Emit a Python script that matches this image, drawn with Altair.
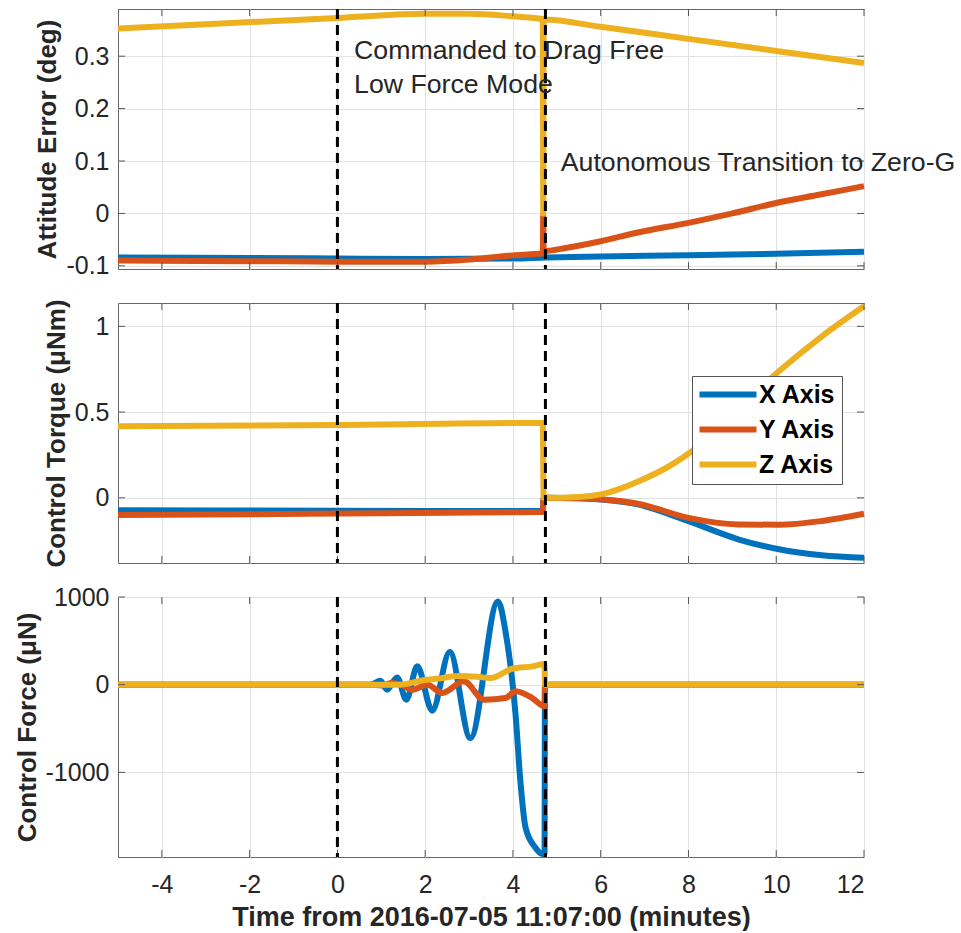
import altair as alt
import pandas as pd

FONT = "Liberation Sans"
SERIES = ["X Axis", "Y Axis", "Z Axis"]
COLORS = ["#0072BD", "#D95319", "#EDB120"]
XTICKS = [-4, -2, 0, 2, 4, 6, 8, 10, 12]
EVENTS = [0, 4.74]
XTITLE = "Time from 2016-07-05 11:07:00 (minutes)"

# ---- Panel 1: Attitude Error (deg)
ATT_YTICKS = [-0.1, 0, 0.1, 0.2, 0.3]
ATT_X_T = [-5, -2, 0, 2, 4, 4.75, 6, 8, 10, 12]
ATT_X_V = [-0.084, -0.085, -0.086, -0.087, -0.086, -0.084, -0.082, -0.080, -0.077, -0.073]
ATT_Y_T = [-5, -2, 0, 2, 3, 3.5, 4, 4.68, 4.69, 4.70, 5.2, 6, 6.87, 8, 9, 10, 11, 12]
ATT_Y_V = [-0.090, -0.091, -0.092, -0.092, -0.088, -0.084, -0.080, -0.076, -0.003, -0.072,
           -0.066, -0.053, -0.036, -0.018, 0.000, 0.020, 0.036, 0.052]
ATT_Z_T = [-5, 0, 2, 3, 4, 4.68, 4.69, 4.70, 6, 8, 10, 12]
ATT_Z_V = [0.353, 0.373, 0.381, 0.381, 0.376, 0.371, 0.0, 0.370, 0.356, 0.333, 0.310, 0.287]

# ---- Panel 2: Control Torque (uNm)
TRQ_YTICKS = [0, 0.5, 1]
TRQ_X_T = [-5, 0, 4.68, 4.70, 5.5, 6, 6.87, 8, 9.15, 10.06, 11.04, 12]
TRQ_X_V = [-0.072, -0.075, -0.077, 0.0, -0.003, -0.010, -0.040, -0.136, -0.243, -0.300, -0.335, -0.350]
TRQ_Y_T = [-5, 0, 4.68, 4.70, 5.5, 6, 6.87, 8, 9.15, 10.06, 11.04, 12]
TRQ_Y_V = [-0.100, -0.092, -0.082, 0.0, -0.002, -0.008, -0.035, -0.117, -0.155, -0.157, -0.135, -0.093]
TRQ_Z_T = [-5, 0, 4.68, 4.70, 5.5, 6, 6.87, 7.63, 8.08, 9.0, 10.06, 11.04, 12]
TRQ_Z_V = [0.418, 0.425, 0.437, 0.0, 0.005, 0.020, 0.097, 0.195, 0.272, 0.490, 0.738, 0.942, 1.117]

# ---- Panel 3: Control Force (uN)
FRC_YTICKS = [-1000, 0, 1000]
FRC_X_T = [-5, 0, 0.75, 0.98, 1.13, 1.36, 1.57, 1.82, 2.16, 2.56, 3.03, 3.66, 3.83, 4.06, 4.17,
           4.29, 4.50, 4.65, 4.72, 4.73, 12]
FRC_X_V = [0, 0, 0, 45, -57, 83, -171, 209, -296, 372, -609, 950, 608, -342, -1103,
           -1635, -1850, -1925, -1930, 0, 0]
FRC_Y_T = [-5, 0.75, 1.0, 1.25, 1.45, 1.70, 2.05, 2.39, 2.88, 3.34, 3.83, 4.06, 4.44, 4.72, 4.73, 12]
FRC_Y_V = [0, 0, -10, 20, 0, -57, 0, -95, 38, -171, -152, -76, -152, -247, 0, 0]
FRC_Z_T = [-5, 1.4, 1.95, 2.3, 2.77, 3.2, 3.49, 3.98, 4.44, 4.72, 4.73, 12]
FRC_Z_V = [0, 0, 50, 70, 99, 90, 76, 182, 209, 235, 0, 0]

NOTES_T = [0.38, 0.38, 5.09]
NOTES_V = [0.309, 0.245, 0.096]
NOTES_TXT = ["Commanded to Drag Free", "Low Force Mode", "Autonomous Transition to Zero-G"]

W, H = 746, 260
TICKLEN = 7


def series_df(ts, vs):
    rows = []
    for name, tt, vv in zip(SERIES, ts, vs):
        for i, (t, v) in enumerate(zip(tt, vv)):
            rows.append({"t": t, "v": v, "s": name, "o": i})
    return pd.DataFrame(rows)


def panel(df, ydom, yticks, ytitle, bottom=False, legend=False, notes=None):
    xs = alt.Scale(domain=[-5, 12], nice=False, zero=False)
    ys = alt.Scale(domain=ydom, nice=False, zero=False)
    xaxis_kw = dict(values=XTICKS, grid=True, ticks=False, tickSize=0, domain=False,
                    gridColor="#e2e2e2", gridWidth=1, labelFont=FONT, labelFontSize=25,
                    labelColor="#262626", labelExpr="'' + datum.value")
    if bottom:
        xaxis = alt.Axis(labels=True, title=XTITLE, labelPadding=15, titlePadding=7,
                         titleFont=FONT, titleFontSize=27, titleFontWeight="bold",
                         titleColor="#262626", **xaxis_kw)
    else:
        xaxis = alt.Axis(labels=False, title="", **xaxis_kw)
    yaxis = alt.Axis(values=yticks, grid=True, ticks=False, tickSize=0, domain=False,
                     gridColor="#e2e2e2", gridWidth=1, labelFont=FONT, labelFontSize=25,
                     labelColor="#262626", labelPadding=9, labelExpr="'' + datum.value",
                     title=ytitle, titleFont=FONT, titleFontSize=26, titleFontWeight="bold",
                     titleColor="#262626", titlePadding=5)
    X = lambda: alt.X("t:Q", scale=xs, axis=xaxis)
    Y = lambda: alt.Y("v:Q", scale=ys, axis=yaxis)
    if legend:
        leg = alt.Legend(orient="none", legendX=574, legendY=73, title=None,
                         fillColor="white", strokeColor="#555555", padding=6,
                         labelFont=FONT, labelFontWeight="bold", labelFontSize=25,
                         labelColor="black", symbolType="M-2.2,0H9.2", symbolSize=100,
                         symbolStrokeWidth=6, symbolOpacity=1, labelOffset=36,
                         rowPadding=9, cornerRadius=0)
    else:
        leg = None
    lines = alt.Chart(df).mark_line(strokeWidth=6, interpolate="monotone").encode(
        x=X(), y=Y(),
        color=alt.Color("s:N", scale=alt.Scale(domain=SERIES, range=COLORS), legend=leg),
        order="o:Q",
    )
    ev = alt.Chart(pd.DataFrame({"t": EVENTS})).mark_rule(
        strokeDash=[10, 6], strokeWidth=3, color="black").encode(x=X())
    xt = pd.DataFrame({"t": XTICKS})
    yt = pd.DataFrame({"v": yticks})
    tick_style = dict(color="#555555", strokeWidth=1)
    tk_top = alt.Chart(xt).mark_rule(**tick_style).encode(
        x=X(), y=alt.value(0), y2=alt.value(TICKLEN))
    tk_bot = alt.Chart(xt).mark_rule(**tick_style).encode(
        x=X(), y=alt.value(H), y2=alt.value(H - TICKLEN))
    tk_l = alt.Chart(yt).mark_rule(**tick_style).encode(
        y=Y(), x=alt.value(0), x2=alt.value(TICKLEN))
    tk_r = alt.Chart(yt).mark_rule(**tick_style).encode(
        y=Y(), x=alt.value(W), x2=alt.value(W - TICKLEN))
    layers = [lines, tk_top, tk_bot, tk_l, tk_r, ev]
    if notes is not None:
        txt = alt.Chart(notes).mark_text(align="left", baseline="middle", font=FONT,
                                         fontSize=26.7, color="#262626").encode(
            x=X(), y=Y(), text="txt:N")
        layers.append(txt)
    return alt.layer(*layers).properties(width=W, height=H)


att = series_df([ATT_X_T, ATT_Y_T, ATT_Z_T], [ATT_X_V, ATT_Y_V, ATT_Z_V])
trq = series_df([TRQ_X_T, TRQ_Y_T, TRQ_Z_T], [TRQ_X_V, TRQ_Y_V, TRQ_Z_V])
frc = series_df([FRC_X_T, FRC_Y_T, FRC_Z_T], [FRC_X_V, FRC_Y_V, FRC_Z_V])
notes = pd.DataFrame({"t": NOTES_T, "v": NOTES_V, "txt": NOTES_TXT})

p1 = panel(att, [-0.106, 0.39], ATT_YTICKS, "Attitude Error (deg)", notes=notes)
p2 = panel(trq, [-0.38, 1.136], TRQ_YTICKS, "Control Torque (\u03bcNm)", legend=True)
p3 = panel(frc, [-1965, 1000], FRC_YTICKS, "Control Force (\u03bcN)", bottom=True)

chart = alt.vconcat(p1, p2, p3, spacing=34, bounds="flush").resolve_scale(
    color="independent"
).properties(
    padding={"left": 13, "top": 1, "right": 0, "bottom": 0}
).configure_view(
    stroke="#666666", strokeWidth=1
)

chart.save("out.html", embed_options={"renderer": "svg", "actions": False})
